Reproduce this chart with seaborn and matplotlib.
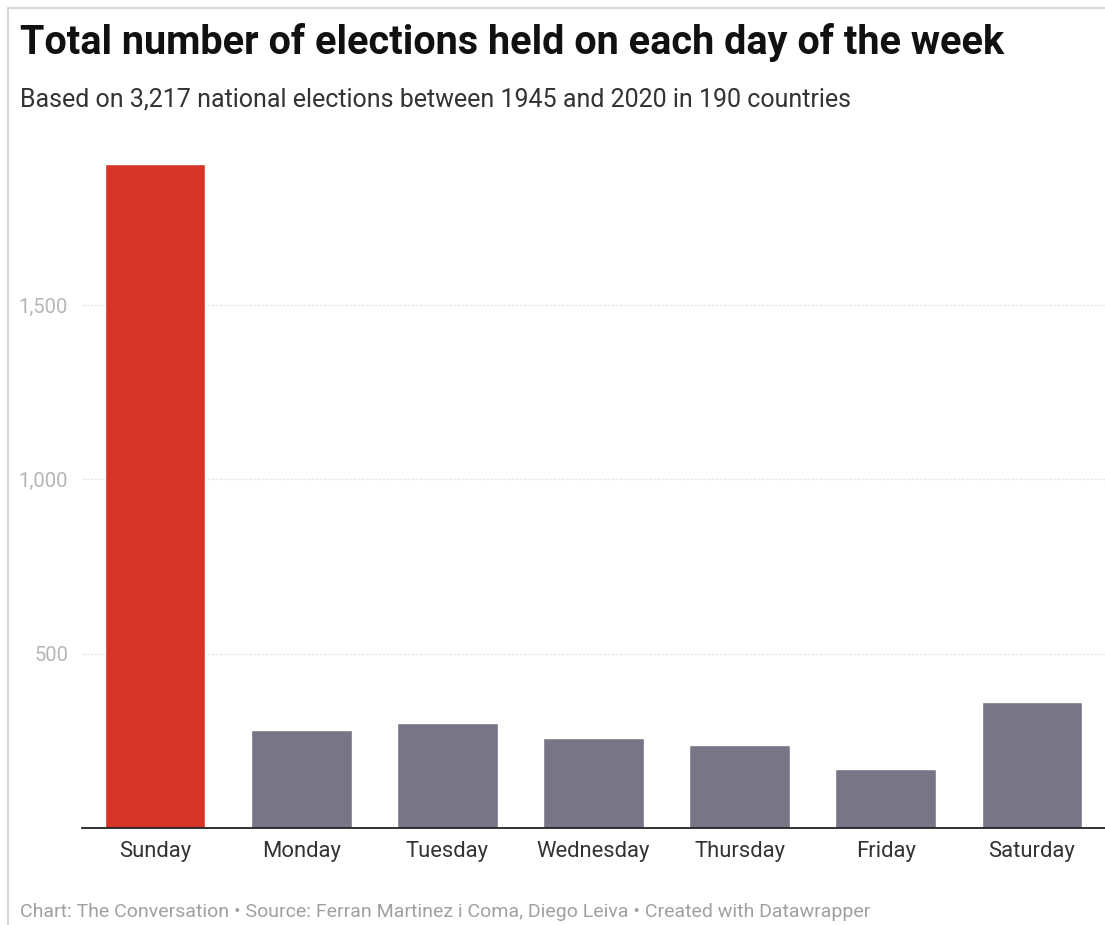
import pandas as pd
import seaborn as sns
import matplotlib.pyplot as plt
from matplotlib.lines import Line2D
from matplotlib.ticker import FuncFormatter

days = ['Sunday', 'Monday', 'Tuesday', 'Wednesday', 'Thursday', 'Friday', 'Saturday']
elections = [1905, 281, 302, 259, 238, 169, 361]
yticks = [500, 1000, 1500]

df = pd.DataFrame({'day': days, 'n': elections})
palette = {d: ('#d63428' if d == 'Sunday' else '#777586') for d in days}

sns.set_style("white")
plt.rcParams['font.family'] = ['Roboto', 'DejaVu Sans']

fig = plt.figure(figsize=(11.05, 9.25), dpi=100)
ax = fig.add_axes([82 / 1105, 1 - 828 / 925, 1 - 82 / 1105, (828 - 148) / 925])

sns.barplot(data=df, x='day', y='n', hue='day', palette=palette, order=days,
            width=0.69, saturation=1, legend=False, ax=ax)

ax.set_ylim(0, 1950)
ax.set_xlim(-0.5, 6.5)
ax.set_yticks(yticks)
ax.yaxis.set_major_formatter(FuncFormatter(lambda v, p: f'{int(v):,}'))
ax.grid(axis='y', color='#e8e8e8', linewidth=1, linestyle=(0, (2, 1)))
ax.set_axisbelow(True)
ax.set_xlabel('')
ax.set_ylabel('')
sns.despine(ax=ax, left=True, right=True, top=True)
ax.spines['bottom'].set_color('#222222')
ax.spines['bottom'].set_linewidth(1.3)
ax.tick_params(axis='y', length=0, labelsize=14.5, labelcolor='#b5b5b5', pad=10)
ax.tick_params(axis='x', length=0, labelsize=15.8, labelcolor='#333333', pad=9)

# frame edge of the screenshot
fig.add_artist(Line2D([8 / 1105, 8 / 1105], [0, 1 - 8 / 925], color='#d0d0d0', lw=1.2))
fig.add_artist(Line2D([8 / 1105, 1], [1 - 8 / 925, 1 - 8 / 925], color='#d0d0d0', lw=1.2))

fig.text(20 / 1105, 1 - 42 / 925, 'Total number of elections held on each day of the week',
         fontsize=28.5, fontweight='bold', color='#111111', va='center')
fig.text(20 / 1105, 1 - 99 / 925, 'Based on 3,217 national elections between 1945 and 2020 in 190 countries',
         fontsize=18, color='#333333', va='center')
fig.text(20 / 1105, 1 - 912 / 925,
         'Chart: The Conversation \u2022 Source: Ferran Martinez i Coma, Diego Leiva \u2022 Created with Datawrapper',
         fontsize=14, color='#a0a0a0', va='center')

fig.savefig('out.png', dpi=100)
